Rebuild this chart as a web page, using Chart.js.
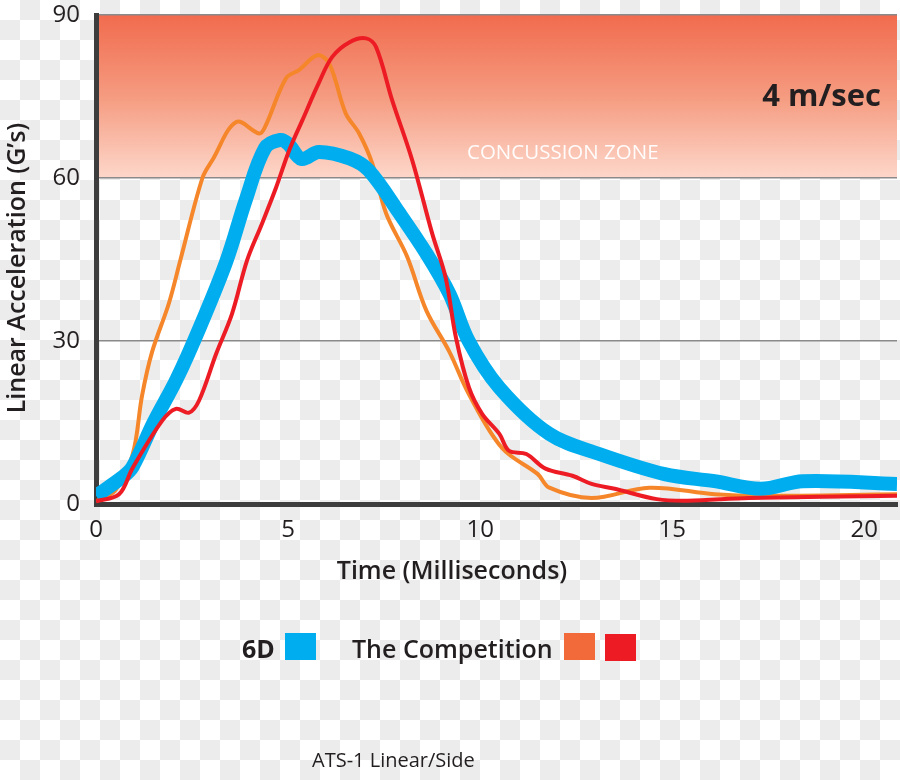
<!DOCTYPE html>
<html>
<head>
<meta charset="utf-8">
<script src="https://cdn.jsdelivr.net/npm/chart.js@4"></script>
<style>
  html, body { margin: 0; padding: 0; }
  body {
    width: 900px; height: 780px;
    background: repeating-conic-gradient(#ececec 0 25%, #ffffff 0 50%) 0 0 / 40px 40px;
  }
  #wrap { position: relative; width: 900px; height: 780px; }
</style>
</head>
<body>
<div id="wrap"><canvas id="impact-chart" width="900" height="780"></canvas></div>
<script>
// ATS-1 Linear/Side, 4 m/sec impact
const sixDTime = [0, 0.7, 0.95, 1.5, 2.1, 2.7, 3.4, 3.9, 4.4, 4.8, 5.0, 5.35, 5.8, 6.6, 7.1, 7.9, 8.6, 9.2, 9.7, 10.5, 11.8, 13.1, 14.8, 16.1, 17.3, 18.4, 20.85];
const sixDAccel = [1.5, 5.0, 6.8, 15, 23, 32.5, 44.8, 56, 65.5, 67.0, 66.3, 63.5, 64.8, 63.6, 61.4, 53.5, 46.1, 38.7, 30, 21.4, 12.9, 9.2, 5.5, 4.2, 2.8, 4.2, 3.7];

const orangeTime = [0, 0.5, 0.95, 1.2, 1.46, 1.9, 2.2, 2.77, 3.03, 3.65, 4.25, 4.4, 4.95, 5.29, 5.76, 6.07, 6.5, 6.85, 7.19, 7.55, 8.1, 8.6, 9.2, 9.7, 10.57, 11.5, 11.8, 12.9, 14.4, 16.1, 17.3, 20.85];
const orangeAccel = [0.5, 2.5, 9, 20, 28, 37, 45, 60, 63.3, 70.3, 68.2, 69.4, 78.4, 79.9, 82.6, 81.1, 71.9, 68.2, 62.7, 53.5, 45.5, 35.6, 28, 20.3, 10.3, 5.5, 3, 1.1, 3, 1.8, 1.5, 1.8];

const redTime = [0, 0.6, 0.95, 1.72, 2.08, 2.42, 2.68, 3.13, 3.54, 3.93, 4.32, 4.69, 5.03, 5.37, 5.8, 6.15, 6.6, 7.03, 7.29, 7.71, 8.23, 8.75, 9.1, 9.37, 9.71, 10.05, 10.5, 10.75, 11.2, 11.7, 12.4, 12.9, 13.5, 14.6, 15.4, 17, 20.85];
const redAccel = [0.5, 1.8, 6.6, 15.3, 17.5, 16.8, 19, 27.7, 35, 44.8, 51.6, 58.3, 65.1, 70.6, 77.5, 82.3, 85, 85.7, 84.1, 74.3, 63.3, 49.8, 41.7, 30.6, 21.4, 16.6, 12.9, 9.8, 9.2, 6.5, 5.2, 3.7, 2.8, 0.9, 0.6, 1.1, 1.5];

const xTicks = [0, 5, 10, 15, 20];
const yTicks = [0, 30, 60, 90];
const zoneFrom = 60, zoneTo = 90;

const FONT = '"Open Sans", "Noto Sans", sans-serif';

function points(xs, ys) {
  return xs.map((x, i) => ({ x: x, y: ys[i] }));
}

const zonePlugin = {
  id: 'zone',
  beforeDraw(chart) {
    const { ctx, chartArea } = chart;
    const y = chart.scales.y;
    const top = y.getPixelForValue(zoneTo);
    const bottom = y.getPixelForValue(zoneFrom);
    const grad = ctx.createLinearGradient(0, top, 0, bottom);
    grad.addColorStop(0, '#f16b4e');
    grad.addColorStop(0.5, '#f59b80');
    grad.addColorStop(1, '#fdd7ca');
    ctx.save();
    ctx.fillStyle = grad;
    ctx.fillRect(chartArea.left, top, chartArea.right - chartArea.left, bottom - top);
    ctx.restore();
  },
  beforeDatasetsDraw(chart) {
    const { ctx } = chart;
    ctx.save();
    ctx.fillStyle = '#231f20';
    ctx.font = 'bold 31px ' + FONT;
    ctx.textAlign = 'right';
    ctx.textBaseline = 'alphabetic';
    ctx.fillText('4 m/sec', 881, 106);
    ctx.fillStyle = 'rgba(255,255,255,0.95)';
    ctx.font = '20.5px ' + FONT;
    ctx.textAlign = 'left';
    ctx.fillText('CONCUSSION ZONE', 467, 159);
    ctx.restore();
  },
  afterDraw(chart) {
    const { ctx } = chart;
    ctx.save();
    ctx.fillStyle = '#231f20';
    // axis titles
    ctx.font = '600 25px ' + FONT;
    ctx.textAlign = 'center';
    ctx.textBaseline = 'middle';
    ctx.fillText('Time (Milliseconds)', 452, 572);
    ctx.save();
    ctx.translate(18, 268);
    ctx.rotate(-Math.PI / 2);
    ctx.fillText('Linear Acceleration (G’s)', 0, 0);
    ctx.restore();
    // legend
    ctx.textAlign = 'left';
    ctx.textBaseline = 'alphabetic';
    ctx.font = 'bold 25px ' + FONT;
    ctx.fillText('6D', 242, 658);
    ctx.font = '600 25px ' + FONT;
    ctx.fillText('The Competition', 352, 658);
    ctx.fillStyle = '#00aeef';
    ctx.fillRect(285, 633, 31, 27);
    ctx.fillStyle = '#f26a3a';
    ctx.fillRect(564, 633, 31, 27);
    ctx.fillStyle = '#ed1c24';
    ctx.fillRect(605, 634, 31, 27);
    // footnote
    ctx.fillStyle = '#231f20';
    ctx.font = '20px ' + FONT;
    ctx.fillText('ATS-1 Linear/Side', 312, 767);
    ctx.restore();
  }
};

const ctx = document.getElementById('impact-chart').getContext('2d');
new Chart(ctx, {
  type: 'line',
  data: {
    datasets: [
      {
        label: 'The Competition (red)',
        data: points(redTime, redAccel),
        borderColor: '#ed1c24',
        borderWidth: 4,
        tension: 0.35
      },
      {
        label: '6D',
        data: points(sixDTime, sixDAccel),
        borderColor: '#00aeef',
        borderWidth: 14,
        borderCapStyle: 'butt',
        tension: 0.35
      },
      {
        label: 'The Competition (orange)',
        data: points(orangeTime, orangeAccel),
        borderColor: '#f6862a',
        borderWidth: 4,
        tension: 0.35
      }
    ]
  },
  options: {
    responsive: false,
    animation: false,
    elements: { point: { radius: 0 } },
    layout: { padding: { top: 15, right: 3, bottom: 236, left: 0 } },
    plugins: {
      legend: { display: false },
      tooltip: { enabled: false }
    },
    scales: {
      x: {
        type: 'linear',
        min: 0,
        max: 20.85,
        afterFit(scale) {
          scale.height = 40;
          scale.paddingLeft = 0;
          scale.paddingRight = 0;
        },
        afterBuildTicks(scale) { scale.ticks = xTicks.map(v => ({ value: v })); },
        grid: { display: false, drawTicks: false },
        border: { display: true, color: '#3d3d3d', width: 5 },
        ticks: {
          padding: 12,
          color: '#231f20',
          font: { family: FONT, size: 24 },
          maxRotation: 0
        }
      },
      y: {
        min: 0,
        max: 90,
        afterFit(scale) {
          scale.width = 96;
          scale.paddingTop = 0;
          scale.paddingBottom = 0;
        },
        afterBuildTicks(scale) { scale.ticks = yTicks.map(v => ({ value: v })); },
        grid: { color: '#8a8a8a', lineWidth: 1.5, drawTicks: false },
        border: { display: true, color: '#3d3d3d', width: 5 },
        ticks: {
          padding: 16,
          color: '#231f20',
          font: { family: FONT, size: 24 }
        }
      }
    }
  },
  plugins: [zonePlugin]
});
</script>
</body>
</html>
